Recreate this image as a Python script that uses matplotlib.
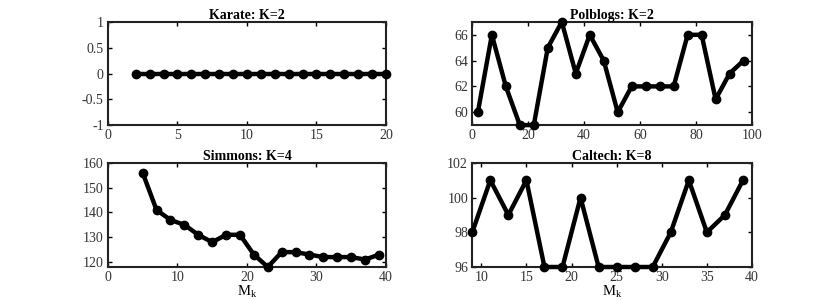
import matplotlib
matplotlib.use("Agg")
import matplotlib.pyplot as plt

plt.rcParams['font.family'] = ['Liberation Serif', 'DejaVu Serif']
plt.rcParams['mathtext.fontset'] = 'custom'
plt.rcParams['mathtext.rm'] = 'Liberation Serif'
plt.rcParams['mathtext.it'] = 'Liberation Serif'

karate_x = list(range(2, 21))
karate_y = [0] * len(karate_x)

polblogs_x = list(range(2, 98, 5))
polblogs_y = [60, 66, 62, 59, 59, 65, 67, 63, 66, 64, 60, 62, 62, 62, 62, 66, 66, 61, 63, 64]

simmons_x = list(range(5, 40, 2))
simmons_y = [156, 141, 137, 135, 131, 128, 131, 131, 123, 118, 124, 124, 123, 122, 122, 122, 121, 123]

caltech_x = list(range(9, 40, 2))
caltech_y = [98, 101, 99, 101, 96, 96, 100, 96, 96, 96, 96, 98, 101, 98, 99, 101]

fig = plt.figure(figsize=(8.3, 3.0), dpi=100)

boxes = [
    [0.130, 0.583, 0.335, 0.344],
    [0.569, 0.583, 0.337, 0.344],
    [0.130, 0.110, 0.335, 0.347],
    [0.569, 0.110, 0.337, 0.347],
]

panels = [
    ("Karate: K=2", karate_x, karate_y, (0, 20), (-1, 1), [0, 5, 10, 15, 20], [-1, -0.5, 0, 0.5, 1], False),
    ("Polblogs: K=2", polblogs_x, polblogs_y, (0, 100), (59, 67), [0, 20, 40, 60, 80, 100], [60, 62, 64, 66], False),
    ("Simmons: K=4", simmons_x, simmons_y, (0, 40), (118, 160), [0, 10, 20, 30, 40], [120, 130, 140, 150, 160], True),
    ("Caltech: K=8", caltech_x, caltech_y, (9, 40), (96, 102), [10, 15, 20, 25, 30, 35, 40], [96, 98, 100, 102], True),
]

for box, (title, xs, ys, xl, yl, xt, yt, lab) in zip(boxes, panels):
    ax = fig.add_axes(box)
    ax.plot(xs, ys, color='black', linewidth=3.2, marker='o', markersize=6, clip_on=False, zorder=3)
    ax.set_xlim(*xl)
    ax.set_ylim(*yl)
    ax.set_xticks(xt)
    ax.set_yticks(yt)
    ax.set_yticklabels([('%g' % v) for v in yt])
    ax.set_title(title, fontsize=10, fontweight='bold', pad=2)
    ax.tick_params(direction='in', top=True, right=True, labelsize=10, width=1,
                   length=3, pad=3, labelcolor='#333333')
    for s in ax.spines.values():
        s.set_linewidth(1.5)
        s.set_color('#222222')
    if lab:
        ax.set_xlabel('M$_\\mathregular{k}$', fontsize=10.5, labelpad=0)

fig.savefig("out.png", dpi=100)
